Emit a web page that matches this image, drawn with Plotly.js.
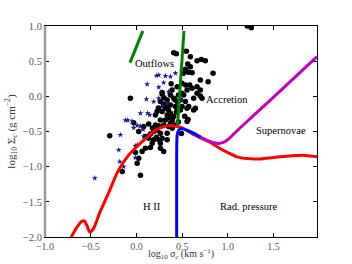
<!DOCTYPE html>
<html>
<head>
<meta charset="utf-8">
<script src="https://cdn.plot.ly/plotly-3.0.1.min.js"></script>
<style>html,body{margin:0;padding:0;background:#fff;}#chart{width:352px;height:264px;}</style>
</head>
<body>
<div id="chart"></div>
<script>
// Black circles (clouds)
const dotX = [0.408,0.437,0.546,0.590,0.663,0.710,0.754,0.561,0.590,0.536,0.572,0.609,0.838,0.517,0.699,0.784,0.499,0.536,0.583,0.609,0.663,0.699,0.445,0.390,0.281,0.372,0.517,0.554,0.663,0.718,0.626,-0.066,0.262,0.336,0.408,0.445,0.481,0.372,0.426,0.499,0.554,0.645,0.317,0.572,0.528,0.565,0.281,0.536,0.626,0.554,-0.292,-0.030,0.025,0.080,0.134,0.117,0.153,0.189,0.226,0.262,0.219,0.172,0.098,0.153,0.062,-0.011,0.025,0.008,-0.156,0.044,0.262,0.298,0.244,0.281,0.336,0.353,0.372,0.298,0.262,0.208,0.226,0.281,0.336,0.372,0.408,0.336,0.445,0.390,0.098,0.134,0.189,0.336,0.262,0.492,0.499,0.699,1.256,1.212,0.350,0.393,0.437,0.295,0.240,0.459,0.415,0.317,0.350,0.481,0.208,0.175,0.240,0.420,0.380,0.300,0.460];
const dotY = [0.621,0.607,0.641,0.564,0.507,0.524,0.507,0.460,0.422,0.385,0.342,0.337,0.328,0.328,0.233,0.209,0.186,0.162,0.162,0.115,0.138,0.091,0.138,0.091,0.053,0.020,0.020,0.091,0.044,-0.027,-0.027,-0.027,-0.075,-0.051,-0.027,-0.075,-0.051,-0.122,-0.146,-0.146,-0.169,-0.169,-0.169,-0.146,-0.283,-0.330,0.034,-0.075,-0.193,-0.359,-0.562,-0.374,-0.501,-0.430,-0.392,-0.572,-0.534,-0.501,-0.477,-0.524,-0.581,-0.666,-0.737,-0.729,-0.786,-0.800,-0.879,-0.950,-1.070,-1.121,-0.737,-0.786,-0.619,-0.595,-0.524,-0.430,-0.382,-0.406,-0.335,-0.264,-0.217,-0.217,-0.264,-0.240,-0.288,-0.146,-0.169,-0.453,-0.572,-0.595,-0.619,-0.619,-0.666,-0.530,0.044,0.006,0.976,1.000,-0.307,-0.335,-0.222,-0.108,-0.165,-0.364,-0.406,-0.335,-0.193,-0.193,-0.406,-0.449,-0.420,-0.050,0.180,-0.020,0.020];
// Blue stars
const starX = [0.244,0.317,0.372,0.426,0.117,0.298,0.109,0.189,0.244,0.353,0.281,0.336,0.499,-0.120,-0.047,-0.030,0.008,0.044,0.073,0.123,0.145,-0.175,-0.193,-0.182,-0.139,0.008,-0.455,0.080,-0.095,-0.011,-0.011,0.219,0.244,0.044];
const starY = [0.304,0.290,0.280,0.328,0.172,0.195,-0.041,-0.075,-0.027,0.067,-0.146,-0.098,-0.051,-0.339,-0.354,-0.447,-0.415,-0.425,-0.472,-0.240,-0.264,-0.548,-0.761,-0.928,-0.999,-0.690,-1.163,-0.572,-0.339,-0.874,-0.705,0.294,0.129,-0.240];
// H II / radiation pressure boundary (red)
const redX = [-0.72,-0.65,-0.60,-0.57,-0.54,-0.51,-0.47,-0.40,-0.30,-0.20,-0.10,0.00,0.10,0.20,0.30,0.38,0.45,0.50,0.60,0.70,0.80,0.90,1.00,1.10,1.20,1.35,1.50,1.70,1.85,1.975];
const redY = [-2.02,-1.86,-1.78,-1.77,-1.84,-1.93,-1.88,-1.65,-1.36,-1.06,-0.86,-0.72,-0.60,-0.49,-0.43,-0.415,-0.43,-0.45,-0.52,-0.59,-0.65,-0.73,-0.80,-0.86,-0.885,-0.89,-0.87,-0.845,-0.84,-0.86];
// Accretion boundary (blue)
const blueX = [0.44,0.44,0.441,0.445,0.455,0.47,0.50,0.55,0.60,0.65,0.70];
const blueY = [-2.02,-1.0,-0.70,-0.56,-0.50,-0.47,-0.46,-0.48,-0.51,-0.54,-0.58];
// Supernovae boundary (magenta)
const snX = [0.60,0.70,0.80,0.85,0.90,0.95,1.00,1.10,1.30,1.60,1.975];
const snY = [-0.53,-0.58,-0.64,-0.66,-0.67,-0.655,-0.615,-0.49,-0.25,0.11,0.564];
// Outflow and accretion green lines
const outX = [-0.07,0.07];
const outY = [0.48,0.93];
const accX = [0.45,0.52];
const accY = [-0.41,0.93];

const traces = [
  {x: dotX, y: dotY, mode: 'markers', type: 'scatter', marker: {color: '#000', size: 5.5}, hoverinfo: 'none'},
  {x: starX, y: starY, mode: 'markers', type: 'scatter', marker: {color: '#1a1a90', size: 4.5, symbol: 'star', line: {width: 0}}, hoverinfo: 'none'},
  {x: redX, y: redY, mode: 'lines', type: 'scatter', line: {color: '#ff0000', width: 3, shape: 'spline', smoothing: 0.8}},
  {x: snX, y: snY, mode: 'lines', type: 'scatter', line: {color: '#bf00bf', width: 3, shape: 'spline', smoothing: 0.8}},
  {x: blueX, y: blueY, mode: 'lines', type: 'scatter', line: {color: '#0000ff', width: 3, shape: 'spline', smoothing: 0.6}},
  {x: outX, y: outY, mode: 'lines', type: 'scatter', line: {color: '#008000', width: 3}},
  {x: accX, y: accY, mode: 'lines', type: 'scatter', line: {color: '#008000', width: 3}}
];

const fnt = {family: 'Liberation Serif, Times New Roman, serif', size: 10.5, color: '#000'};
const annot = (t, x, y) => ({text: t, x: x, y: y, xref: 'x', yref: 'y', xanchor: 'left', yanchor: 'middle', showarrow: false, font: fnt});

const layout = {
  width: 352, height: 264,
  margin: {l: 45, r: 35, t: 26, b: 27},
  paper_bgcolor: '#fff', plot_bgcolor: '#fff',
  showlegend: false,
  font: {family: 'Liberation Serif, Times New Roman, serif', size: 10, color: '#444'},
  xaxis: {
    range: [-1.0, 1.975], dtick: 0.5, tick0: 0, tickformat: '.1f',
    showgrid: false, zeroline: false, showline: true, linecolor: '#000', linewidth: 1,
    mirror: 'ticks', ticks: 'inside', ticklen: 4, tickcolor: '#000',
    tickfont: {size: 10, color: '#555'}
  },
  yaxis: {
    range: [-2.0, 1.0], dtick: 0.5, tick0: 0, tickformat: '.1f',
    showgrid: false, zeroline: false, showline: true, linecolor: '#000', linewidth: 1,
    mirror: 'ticks', ticks: 'inside', ticklen: 4, tickcolor: '#000',
    tickfont: {size: 10.5, color: '#555'},
    title: {text: 'log<sub>10</sub> Σ<sub>c</sub> (g cm<sup>−2</sup>)', font: {size: 11, color: '#333'}, standoff: 5}
  },
  shapes: [
    {type: 'line', xref: 'paper', yref: 'paper', x0: 0, x1: 0, y0: 0, y1: 1, line: {color: '#999', width: 2.5}}
  ],
  annotations: [
    annot('Outflows', -0.036, 0.467),
    annot('Accretion', 0.736, -0.051),
    annot('Supernovae', 1.29, -0.487),
    annot('H II', 0.055, -1.567),
    annot('Rad. pressure', 0.893, -1.567),
    {text: 'log<sub>10</sub> <i>σ</i><sub>c</sub> (km s<sup>−1</sup>)', xref: 'paper', yref: 'paper', x: 0.5, y: -0.125, xanchor: 'center', yanchor: 'bottom', showarrow: false, font: {family: 'Liberation Serif, Times New Roman, serif', size: 10, color: '#333'}}
  ]
};

Plotly.newPlot('chart', traces, layout, {displayModeBar: false, staticPlot: true});
</script>
</body>
</html>
